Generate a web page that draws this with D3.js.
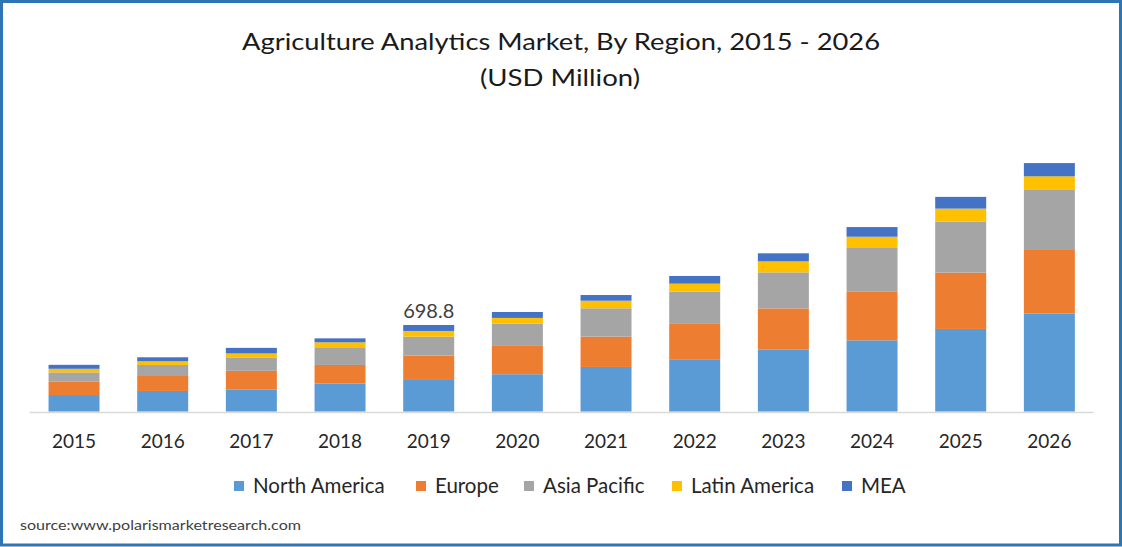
<!DOCTYPE html>
<html>
<head>
<meta charset="utf-8">
<script src="https://cdn.jsdelivr.net/npm/d3@7"></script>
<style>
  html, body { margin: 0; padding: 0; background: #fff; }
  svg { display: block; }
  text { font-family: Lato, "Open Sans", sans-serif; }
</style>
</head>
<body>
<svg id="chart" width="1122" height="547"></svg>
<script>
// Agriculture analytics market by region, USD million
const years = ["2015","2016","2017","2018","2019","2020","2021","2022","2023","2024","2025","2026"];
const regions = ["North America","Europe","Asia Pacific","Latin America","MEA"];
const northAmerica = [133, 166, 179, 225, 254.8, 301, 360, 422, 499, 575, 667, 790];
const europe       = [107, 121, 150, 151, 196.2, 229, 245, 291, 334, 396, 455, 515];
const asiaPacific  = [ 76,  89, 108, 137, 153.5, 180, 229, 255, 291, 350, 412, 490];
const latinAmerica = [ 29,  30,  32,  46,  46.2,  46,  61,  65,  89,  91, 105, 105];
const mea          = [ 32,  32,  45,  32,  48.1,  48,  46,  62,  65,  78,  95, 107];
const colors = ["#5b9bd5", "#ed7d31", "#a5a5a5", "#ffc000", "#4472c4"];
const annotatedYear = "2019";
const annotatedValue = "698.8";

const seriesValues = [northAmerica, europe, asiaPacific, latinAmerica, mea];
const rows = years.map((yr, i) => {
  const r = { year: yr };
  regions.forEach((reg, j) => { r[reg] = seriesValues[j][i]; });
  return r;
});

const svg = d3.select("#chart");

// outer frame
svg.append("rect")
  .attr("x", 1.5).attr("y", 1.5)
  .attr("width", 1119).attr("height", 543.5)
  .attr("fill", "#fff")
  .attr("stroke", "#2e75b6").attr("stroke-width", 3);

// titles
svg.append("text")
  .attr("x", 561).attr("y", 50)
  .attr("text-anchor", "middle")
  .attr("font-size", 24).attr("fill", "#1a1a1a")
  .attr("textLength", 638).attr("lengthAdjust", "spacingAndGlyphs")
  .text("Agriculture Analytics Market, By Region, 2015 - 2026");
svg.append("text")
  .attr("x", 560).attr("y", 86)
  .attr("text-anchor", "middle")
  .attr("font-size", 24).attr("fill", "#1a1a1a")
  .attr("textLength", 160).attr("lengthAdjust", "spacingAndGlyphs")
  .text("(USD Million)");

const baseY = 411.5;
const x = d3.scaleBand().domain(years).range([29.7, 1093.7])
  .paddingInner(0.425).paddingOuter(0.2125);
const y = d3.scaleLinear().domain([0, 2000]).range([baseY, baseY - 2000 / 8.079]);

const stack = d3.stack().keys(regions);
const layers = stack(rows);

// axis line
svg.append("line")
  .attr("x1", 29.7).attr("x2", 1093.7)
  .attr("y1", baseY + 1).attr("y2", baseY + 1)
  .attr("stroke", "#d9d9d9").attr("stroke-width", 1.5);

svg.append("g").selectAll("g")
  .data(layers).join("g")
  .attr("fill", (d, i) => colors[i])
  .selectAll("rect")
  .data(d => d).join("rect")
  .attr("x", d => x(d.data.year))
  .attr("width", x.bandwidth())
  .attr("y", d => y(d[1]))
  .attr("height", d => y(d[0]) - y(d[1]));

// x axis labels
const xAxis = d3.axisBottom(x).tickSize(0).tickPadding(0);
const gx = svg.append("g").attr("transform", `translate(0,${baseY})`).call(xAxis);
gx.select(".domain").remove();
gx.selectAll("text")
  .attr("y", 36).attr("dy", 0)
  .attr("font-size", 19).attr("font-family", "Lato, sans-serif")
  .attr("fill", "#262626");

// value label on the annotated bar
const annIdx = years.indexOf(annotatedYear);
const annTop = layers[layers.length - 1][annIdx][1];
svg.append("text")
  .attr("x", x(annotatedYear) + x.bandwidth() / 2)
  .attr("y", y(annTop) - 7)
  .attr("text-anchor", "middle")
  .attr("font-size", 20).attr("fill", "#404040")
  .text(annotatedValue);

// legend
const legendX = [234, 416, 524, 672, 842];
const legend = svg.append("g").selectAll("g")
  .data(regions).join("g")
  .attr("transform", (d, i) => `translate(${legendX[i]},486)`);
legend.append("rect")
  .attr("x", 0).attr("y", -5).attr("width", 10).attr("height", 10)
  .attr("fill", (d, i) => colors[i]);
legend.append("text")
  .attr("x", 19).attr("y", 7)
  .attr("font-size", 20.5).attr("fill", "#262626")
  .text(d => d);

// source note
svg.append("text")
  .attr("x", 20).attr("y", 530)
  .attr("font-size", 13).attr("fill", "#404040")
  .attr("textLength", 281).attr("lengthAdjust", "spacingAndGlyphs")
  .text("source:www.polarismarketresearch.com");
</script>
</body>
</html>
